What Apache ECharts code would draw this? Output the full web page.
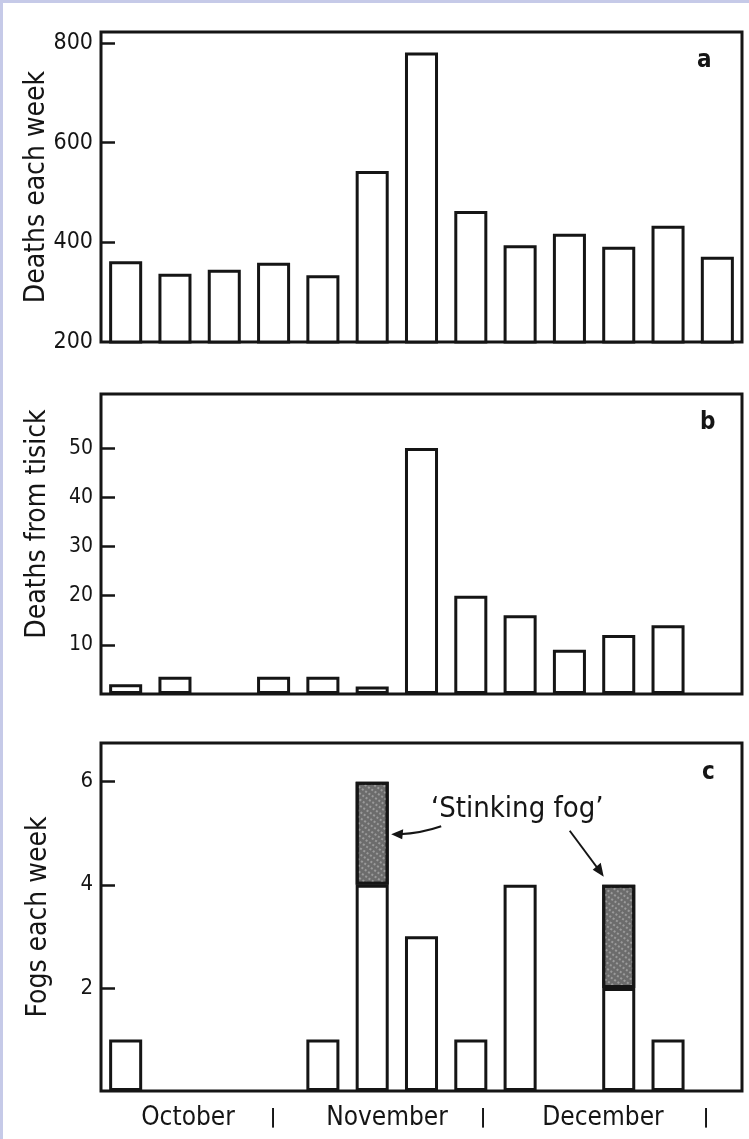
<!DOCTYPE html>
<html>
<head>
<meta charset="utf-8">
<script src="https://cdn.jsdelivr.net/npm/echarts@6/dist/echarts.min.js"></script>
<style>
  html, body { margin: 0; padding: 0; background: #c6cae8; }
  #chart { position: absolute; left: 3px; top: 3px; width: 746px; height: 1136px; background: #ffffff; }
</style>
</head>
<body>
<div id="chart"></div>
<script>
// ---- data ----
const weeks = ['W1','W2','W3','W4','W5','W6','W7','W8','W9','W10','W11','W12','W13'];
const deathsEachWeek   = [362, 337, 345, 359, 334, 543, 781, 463, 394, 417, 391, 433, 371];
const deathsFromTisick = [2, 3.5, null, 3.5, 3.5, 1.5, 50, 20, 16, 9, 12, 14, null];
const fogsEachWeek     = [1, null, null, null, 1, 4, 3, 1, 4, null, 2, 1, null];
const stinkingFogs     = [null, null, null, null, null, 2, null, null, null, null, 2, null, null];
const yTicksA = [200, 400, 600, 800];
const yTicksB = [10, 20, 30, 40, 50];
const yTicksC = [2, 4, 6];
const monthLabels = ['October', '|', 'November', '|', 'December', '|'];
const panelLetters = ['a', 'b', 'c'];
const yNames = ['Deaths each week', 'Deaths from tisick', 'Fogs each week'];
const annotation = '\u2018Stinking fog\u2019';

// ---- styling ----
const FONT = 'DejaVu Sans Condensed';
const INK = '#151515';
const chart = echarts.init(document.getElementById('chart'), null, { renderer: 'canvas' });

const grids = [
  { left: 98, top: 29, width: 641, height: 310 },
  { left: 98, top: 391, width: 641, height: 300 },
  { left: 98, top: 740, width: 641, height: 348 }
];

function gridOpt(g) {
  return Object.assign({ show: true, borderColor: INK, borderWidth: 3, backgroundColor: 'transparent' }, g);
}
function xAxisOpt(i) {
  return {
    type: 'category', gridIndex: i, data: weeks,
    axisLine: { show: false }, axisTick: { show: false }, axisLabel: { show: false },
    splitLine: { show: false }
  };
}
function yAxisOpt(i, min, max, ticks, name, fontSize, namePad, nameGap) {
  return {
    type: 'value', gridIndex: i, min: min, max: max,
    name: name, nameLocation: 'middle', nameRotate: 90, nameGap: nameGap, nameMoveOverlap: false,
    nameTextStyle: { fontFamily: FONT, fontSize: 28, color: INK, padding: namePad },
    axisLine: { show: false },
    axisTick: { show: true, inside: true, length: 14, customValues: ticks.filter(v => v !== min),
      lineStyle: { color: INK, width: 2.5 } },
    axisLabel: { show: true, customValues: ticks, fontFamily: FONT, fontSize: fontSize, color: INK, margin: 8 },
    splitLine: { show: false }
  };
}
const barBase = { color: '#ffffff', borderColor: INK, borderWidth: 3 };

chart.setOption({
  animation: false,
  grid: grids.map(gridOpt),
  xAxis: [xAxisOpt(0), xAxisOpt(1), xAxisOpt(2)],
  yAxis: [
    yAxisOpt(0, 200, 822, yTicksA, yNames[0], 23, [0, 0, 0, 0], 50),
    yAxisOpt(1, 0, 61, yTicksB, yNames[1], 21, [0, 0, 0, 40], 49),
    yAxisOpt(2, 0, 6.75, yTicksC, yNames[2], 22, [0, 0, 0, 0], 48)
  ],
  series: [
    { type: 'bar', name: yNames[0], xAxisIndex: 0, yAxisIndex: 0, data: deathsEachWeek,
      barCategoryGap: '33%', itemStyle: barBase },
    { type: 'bar', name: yNames[1], xAxisIndex: 1, yAxisIndex: 1, data: deathsFromTisick,
      barCategoryGap: '33%', itemStyle: barBase },
    { type: 'bar', name: yNames[2], xAxisIndex: 2, yAxisIndex: 2, data: fogsEachWeek, stack: 'fog',
      barCategoryGap: '33%', itemStyle: barBase },
    { type: 'bar', name: annotation, xAxisIndex: 2, yAxisIndex: 2, data: stinkingFogs, stack: 'fog',
      barCategoryGap: '33%',
      itemStyle: { color: '#6c6c6c', borderColor: INK, borderWidth: 3,
        decal: { symbol: 'circle', symbolSize: 0.8, color: 'rgba(240,240,240,0.8)',
          dashArrayX: [[2, 2]], dashArrayY: [2, 3], rotation: 0.6 } } }
  ]
});

// ---- annotations anchored to the axes ----
const g = [];
const letterPos = [[694, 46], [697, 408], [699, 758]];
panelLetters.forEach((t, i) => {
  g.push({ type: 'text', left: letterPos[i][0], top: letterPos[i][1],
    style: { text: t, font: 'bold 24px "' + FONT + '"', fill: INK } });
});
const monthX = [185, 270, 384, 480, 600, 703];
monthLabels.forEach((t, i) => {
  g.push({ type: 'text', x: monthX[i], y: 1115,
    style: { text: t, font: (t === '|' ? 'bold 20px ' : '26px ') + '"' + FONT + '"', fill: INK,
      align: 'center', verticalAlign: 'middle' } });
});
const p1 = chart.convertToPixel({ xAxisIndex: 2, yAxisIndex: 2 }, [5, 5]);
const p2 = chart.convertToPixel({ xAxisIndex: 2, yAxisIndex: 2 }, [10, 4]);
const h1 = [p1[0] + 19, p1[1] + 1];
const t1 = [h1[0] + 50, h1[1] - 8];
g.push({ type: 'bezierCurve', shape: { x1: t1[0], y1: t1[1], x2: h1[0] + 8, y2: h1[1], cpx1: t1[0] - 20, cpy1: t1[1] + 7 },
  style: { stroke: INK, lineWidth: 2, fill: null } });
g.push({ type: 'polygon', shape: { points: [[h1[0], h1[1]], [h1[0] + 12, h1[1] - 5], [h1[0] + 11, h1[1] + 5]] },
  style: { fill: INK } });
const h2 = [p2[0] - 15, p2[1] - 8];
const t2 = [h2[0] - 34, h2[1] - 46];
g.push({ type: 'line', shape: { x1: t2[0], y1: t2[1], x2: h2[0] - 5, y2: h2[1] - 7 },
  style: { stroke: INK, lineWidth: 2 } });
g.push({ type: 'polygon', shape: { points: [[h2[0], h2[1]], [h2[0] - 11, h2[1] - 7], [h2[0] - 3, h2[1] - 14]] },
  style: { fill: INK } });
g.push({ type: 'text', x: p1[0] + 145, y: p1[1] - 24,
  style: { text: annotation, font: '29px "' + FONT + '"', fill: INK, align: 'center', verticalAlign: 'middle' } });

chart.setOption({ graphic: g });
</script>
</body>
</html>
